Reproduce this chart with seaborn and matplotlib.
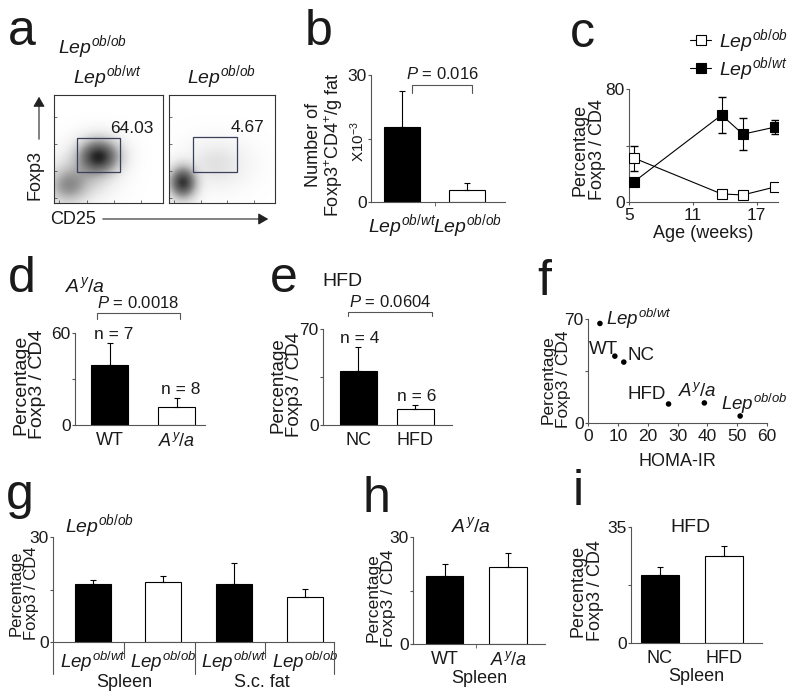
import numpy as np
import pandas as pd
import seaborn as sns
import matplotlib.pyplot as plt
from matplotlib.patches import Rectangle, FancyArrowPatch

# ---------------- data ----------------
LEP_WT = r'$\mathit{Lep}^{\mathit{ob/wt}}$'
LEP_OB = r'$\mathit{Lep}^{\mathit{ob/ob}}$'
AY = r'$\mathit{A^y/a}$'

# a: flow cytometry clouds (axis fraction): centre x, centre y, spread x, spread y, weight
flow_wt_clusters = [(0.41, 0.43, 0.10, 0.085, 1.0), (0.13, 0.16, 0.10, 0.09, 0.30),
                    (0.28, 0.28, 0.13, 0.11, 0.15)]
flow_ob_clusters = [(0.13, 0.19, 0.07, 0.08, 0.9), (0.45, 0.36, 0.15, 0.11, 0.04)]
flow_wt_gate = (0.21, 0.29, 0.40, 0.31)
flow_ob_gate = (0.23, 0.29, 0.41, 0.32)
flow_pct = ['64.03', '4.67']

# b: number of Foxp3+CD4+ per g fat (x10^-3)
b_groups = ['ob/wt', 'ob/ob']
b_labels = [LEP_WT, LEP_OB]
b_mean = [17.7, 2.8]
b_err = [8.5, 1.7]

# c: time course
c_weeks = [5.5, 13.7, 15.7, 18.7]
c_obob = [31.0, 5.7, 5.0, 10.6]
c_obob_err = [9.0, 1.5, 1.5, 1.5]
c_obwt = [14.5, 61.6, 48.0, 53.0]
c_obwt_err = [2.0, 12.5, 11.5, 5.0]

# d: Ay/a
d_groups = ['WT', 'Ay/a']
d_labels = ['WT', AY]
d_mean = [39.0, 11.7]
d_err = [14.5, 5.9]
d_n = ['n = 7', 'n = 8']

# e: HFD
e_groups = ['NC', 'HFD']
e_labels = ['NC', 'HFD']
e_mean = [39.4, 11.7]
e_err = [17.6, 2.9]
e_n = ['n = 4', 'n = 6']

# f: HOMA-IR vs Foxp3
f_names = [LEP_WT, 'WT', 'NC', 'HFD', AY, LEP_OB]
f_homa = [4, 9, 12, 27, 39, 51]
f_pct = [67, 45, 41, 12.8, 13.5, 4.7]

# g: Lep ob/ob spleen and s.c. fat
g_groups = ['Spleen wt', 'Spleen ob', 'Fat wt', 'Fat ob']
g_labels = [LEP_WT, LEP_OB, LEP_WT, LEP_OB]
g_mean = [16.6, 17.1, 16.6, 12.9]
g_err = [1.1, 1.8, 6.0, 2.2]

# h: Ay/a spleen
h_groups = ['WT', 'Ay/a']
h_labels = ['WT', AY]
h_mean = [19.0, 21.6]
h_err = [3.4, 3.9]

# i: HFD spleen
i_groups = ['NC', 'HFD']
i_labels = ['NC', 'HFD']
i_mean = [20.5, 26.3]
i_err = [2.5, 3.0]

# ---------------- style ----------------
sns.set_style('ticks')
plt.rcParams['font.family'] = ['Liberation Sans', 'DejaVu Sans']
plt.rcParams['mathtext.fontset'] = 'custom'
plt.rcParams['mathtext.rm'] = 'Liberation Sans'
plt.rcParams['mathtext.it'] = 'Liberation Sans:italic'
plt.rcParams['mathtext.bf'] = 'Liberation Sans:bold'
plt.rcParams['axes.edgecolor'] = '#555555'
plt.rcParams['axes.linewidth'] = 0.8
plt.rcParams['xtick.color'] = '#555555'
plt.rcParams['ytick.color'] = '#555555'
plt.rcParams['xtick.labelcolor'] = '#1a1a1a'
plt.rcParams['ytick.labelcolor'] = '#1a1a1a'
plt.rcParams['text.color'] = '#1a1a1a'
plt.rcParams['axes.labelcolor'] = '#1a1a1a'

W, H = 800, 697
fig = plt.figure(figsize=(8, 6.97), dpi=100)


def rect(l, t, r, b):
    return [l / W, 1 - b / H, (r - l) / W, (b - t) / H]


def fxy(x, y):
    return (x / W, 1 - y / H)


def letter(x, y, s):
    fig.text(*fxy(x, y), s, fontsize=36, va='baseline', ha='left')


def bar_panel(box, groups, labels, means, errs, width, xlim, ylim, yticks, ylab, label_right,
              lab_size=13, lab_y=0.46):
    ax = fig.add_axes(rect(*box))
    df = pd.DataFrame({'group': groups, 'value': means})
    colors = ['black' if k % 2 == 0 else 'white' for k in range(len(groups))]
    sns.barplot(data=df, x='group', y='value', hue='group', palette=colors, width=width,
                saturation=1, edgecolor='black', linewidth=0.8, legend=False, ax=ax)
    ax.errorbar(range(len(means)), means, yerr=[np.zeros(len(errs)), errs], fmt='none',
                ecolor='black', elinewidth=0.8, capsize=2.5, capthick=0.8)
    ax.set_xlim(*xlim)
    ax.set_ylim(*ylim)
    ax.set_yticks(yticks)
    ax.set_yticklabels([str(yticks[0]), '', str(yticks[-1])])
    ax.set_xticks(range(len(groups)))
    ax.set_xticklabels(labels)
    ax.tick_params(axis='x', length=0, pad=5, labelsize=13)
    ax.tick_params(axis='y', length=2.5, pad=0.5, labelsize=12.5)
    ax.set_xlabel('')
    ax.set_ylabel(ylab, fontsize=lab_size, linespacing=1.0)
    ax.yaxis.set_label_coords((label_right - box[0]) / (box[2] - box[0]), lab_y)
    sns.despine(ax=ax)
    return ax


def bracket(ax, x0, x1, y, drop, text):
    ax.plot([x0, x0, x1, x1], [y - drop, y, y, y - drop], color='#555555', lw=0.8, clip_on=False)
    ax.text((x0 + x1) / 2, y + drop * 0.4, text, ha='center', va='bottom', fontsize=12)


PCT = 'Percentage\nFoxp3 / CD4'

# ---------------- a ----------------
letter(8, 45, 'a')
fig.text(*fxy(58, 53), LEP_OB, fontsize=14, va='baseline')
flow_boxes = [(54, 95, 163, 203), (169, 95, 275, 203)]
flow_titles = [LEP_WT, LEP_OB]
flow_title_x = [73, 187]
for clusters, gate, pct, fbox, title, tx in zip([flow_wt_clusters, flow_ob_clusters],
                                                [flow_wt_gate, flow_ob_gate], flow_pct,
                                                flow_boxes, flow_titles, flow_title_x):
    ax = fig.add_axes(rect(*fbox))
    xx, yy = np.meshgrid(np.linspace(0, 1, 220), np.linspace(0, 1, 220))
    dens = np.zeros_like(xx)
    for cx, cy, sx, sy, w in clusters:
        dens += w * np.exp(-((xx - cx) ** 2 / (2 * sx ** 2) + (yy - cy) ** 2 / (2 * sy ** 2)))
    ax.imshow(dens ** 0.45, extent=(0, 1, 0, 1), origin='lower', cmap='Greys', vmin=0, vmax=1.15,
              aspect='auto', interpolation='bilinear')
    ax.add_patch(Rectangle((gate[0], gate[1]), gate[2], gate[3], fill=False, edgecolor='#3a3f5a', lw=0.9))
    ax.text(gate[0] + gate[2] + 0.1, gate[1] + gate[3] + 0.09, pct, ha='center', va='center', fontsize=12.5)
    ax.set_xlim(0, 1)
    ax.set_ylim(0, 1)
    ax.set_xticks([0.05, 0.3, 0.55, 0.8])
    ax.set_yticks([0.05, 0.3, 0.55, 0.8])
    ax.set_xticklabels([])
    ax.set_yticklabels([])
    ax.tick_params(direction='in', length=2.5, width=0.6)
    for s in ax.spines.values():
        s.set_color('#333333')
    fig.text(*fxy(tx, 83), title, fontsize=14, va='baseline')

fig.text(*fxy(35, 175), 'Foxp3', rotation=90, ha='center', va='center', fontsize=13)
fig.text(*fxy(50, 219), 'CD25', ha='left', va='center', fontsize=13)
fig.patches.append(FancyArrowPatch(
    fxy(39, 142), fxy(39, 94), transform=fig.transFigure, arrowstyle='-|>,head_length=6,head_width=3.5',
    color='#222222', lw=0.8))
fig.patches.append(FancyArrowPatch(
    fxy(100, 219), fxy(271, 219), transform=fig.transFigure, arrowstyle='-|>,head_length=6,head_width=3.5',
    color='#222222', lw=0.8))

# ---------------- b ----------------
letter(305, 45, 'b')
ax = bar_panel((371, 75, 505, 202), b_groups, b_labels, b_mean, b_err, 0.55, (-0.48, 1.58),
               (0, 30), [0, 15, 30], 'Number of\nFoxp3$^{+}$CD4$^{+}$/g fat', 345, lab_y=0.45)
ax.set_xticks([0.5], minor=True)
ax.tick_params(axis='x', which='minor', length=3)
ax.tick_params(axis='x', pad=7, labelsize=14)
bracket(ax, 0.15, 1.08, 27.6, 1.9, r'$\mathit{P}$ = 0.016')
fig.text(*fxy(358, 142), r'X10$^{-3}$', rotation=90, ha='center', va='center', fontsize=11)

# ---------------- c ----------------
letter(570, 47, 'c')
ax = fig.add_axes(rect(629, 89, 778, 202))
sns.lineplot(x=c_weeks, y=c_obob, color='black', marker='s', markersize=6.5, markerfacecolor='white',
             markeredgecolor='black', markeredgewidth=0.8, linewidth=0.8, label=LEP_OB, zorder=3, ax=ax)
sns.lineplot(x=c_weeks, y=c_obwt, color='black', marker='s', markersize=6.5, markerfacecolor='black',
             markeredgecolor='black', markeredgewidth=0.8, linewidth=0.8, label=LEP_WT, zorder=3, ax=ax)
ax.errorbar(c_weeks, c_obob, yerr=c_obob_err, fmt='none', ecolor='black', elinewidth=0.8, capsize=3, zorder=1)
ax.errorbar(c_weeks, c_obwt, yerr=c_obwt_err, fmt='none', ecolor='black', elinewidth=0.8, capsize=3, zorder=1)
ax.set_xlim(5, 19)
ax.set_ylim(0, 80)
ax.set_xticks([5, 11, 17])
ax.set_yticks([0, 40, 80])
ax.set_yticklabels(['0', '', '80'])
ax.tick_params(axis='both', length=2.5, pad=0.5, labelsize=12.5)
ax.tick_params(axis='x', pad=2)
ax.set_xlabel('Age (weeks)', fontsize=13, labelpad=1)
ax.set_ylabel(PCT, fontsize=13, linespacing=1.0)
ax.yaxis.set_label_coords((606 - 629) / (778 - 629), 0.46)
sns.despine(ax=ax)
ax.legend(loc='center left', bbox_to_anchor=fxy(690, 55), bbox_transform=fig.transFigure, frameon=False,
          fontsize=14, handlelength=1.1, handletextpad=0.4, labelspacing=0.0, borderpad=0, borderaxespad=0)

# ---------------- d ----------------
letter(8, 292, 'd')
fig.text(*fxy(65, 292), AY, fontsize=14, va='baseline')
ax = bar_panel((75, 333, 205, 425), d_groups, d_labels, d_mean, d_err, 0.55, (-0.52, 1.42),
               (0, 60), [0, 30, 60], PCT, 46, lab_size=14, lab_y=0.44)
bracket(ax, -0.19, 1.04, 73, 3.9, r'$\mathit{P}$ = 0.0018')
for k, (m, e, n) in enumerate(zip(d_mean, d_err, d_n)):
    ax.text(k + 0.05, m + e + 0.5, n, ha='center', va='bottom', fontsize=12.5)

# ---------------- e ----------------
letter(270, 292, 'e')
fig.text(*fxy(322, 286), 'HFD', fontsize=14, va='baseline')
ax = bar_panel((323, 329, 452, 425), e_groups, e_labels, e_mean, e_err, 0.65, (-0.62, 1.64),
               (0, 70), [0, 35, 70], PCT, 303, lab_size=13.5, lab_y=0.42)
bracket(ax, -0.18, 1.29, 82.4, 2.9, r'$\mathit{P}$ = 0.0604')
for k, (m, e, n) in enumerate(zip(e_mean, e_err, e_n)):
    ax.text(k + 0.02, m + e + 0.5, n, ha='center', va='bottom', fontsize=12.5)

# ---------------- f ----------------
letter(537, 295, 'f')
ax = fig.add_axes(rect(588, 319, 767, 423))
sns.scatterplot(x=f_homa, y=f_pct, color='black', s=16, edgecolor='none', ax=ax)
f_offsets = [(6, 5), (3, 7), (4, 7), (-3, 9), (-7, 12), (14, 12)]
f_ha = ['left', 'right', 'left', 'right', 'center', 'center']
for name, x, y, (dx, dy), ha in zip(f_names, f_homa, f_pct, f_offsets, f_ha):
    ax.annotate(name, (x, y), xytext=(dx, dy), textcoords='offset pixels', ha=ha, va='center', fontsize=13.5)
ax.set_xlim(0, 60)
ax.set_ylim(0, 70)
ax.set_xticks(range(0, 61, 10))
ax.set_yticks([0, 35, 70])
ax.set_yticklabels(['0', '', '70'])
ax.tick_params(axis='both', length=2.5, pad=0.5, labelsize=12.5)
ax.tick_params(axis='x', pad=2)
ax.set_xlabel('HOMA-IR', fontsize=13, labelpad=6)
ax.set_ylabel(PCT, fontsize=12.5, linespacing=1.0)
ax.yaxis.set_label_coords((571 - 588) / (767 - 588), 0.42)
sns.despine(ax=ax)

# ---------------- g ----------------
letter(6, 509, 'g')
fig.text(*fxy(65, 532), LEP_OB, fontsize=14, va='baseline')
ax = bar_panel((53, 537, 334, 642), g_groups, g_labels, g_mean, g_err, 0.51, (-0.56, 3.41),
               (0, 30), [0, 15, 30], PCT, 39, lab_size=12, lab_y=0.46)
ax.tick_params(axis='x', pad=6, labelsize=13.5)
trans = ax.get_xaxis_transform()
g_sep_x = [-0.56, 0.44, 1.44, 2.43, 3.41]
g_sep_depth = [0.30, 0.15, 0.30, 0.15, 0.30]
for xs, depth in zip(g_sep_x, g_sep_depth):
    ax.plot([xs, xs], [0, -depth], transform=trans, clip_on=False, color='#555555', lw=0.8)
for xc, name in zip([0.44, 2.39], ['Spleen', 'S.c. fat']):
    ax.text(xc, -0.385, name, transform=trans, ha='center', va='center', fontsize=13)

# ---------------- h ----------------
letter(362, 512, 'h')
fig.text(*fxy(451, 532), AY, fontsize=14, va='baseline')
ax = bar_panel((413, 537, 545, 644), h_groups, h_labels, h_mean, h_err, 0.59, (-0.5, 1.58),
               (0, 30), [0, 15, 30], PCT, 396, lab_size=12.5, lab_y=0.43)
ax.set_xticks([0.5], minor=True)
ax.tick_params(axis='x', which='minor', length=3)
ax.set_xlabel('Spleen', fontsize=13, labelpad=1)

# ---------------- i ----------------
letter(573, 505, 'i')
fig.text(*fxy(670, 532), 'HFD', fontsize=14, va='baseline')
ax = bar_panel((631, 527, 762, 643), i_groups, i_labels, i_mean, i_err, 0.59, (-0.45, 1.59),
               (0, 35), [0, 17.5, 35], PCT, 604, lab_y=0.45)
ax.set_yticklabels(['0', '', '35'])
ax.set_xlabel('Spleen', fontsize=13, labelpad=1)

fig.savefig('out.png', dpi=100)
